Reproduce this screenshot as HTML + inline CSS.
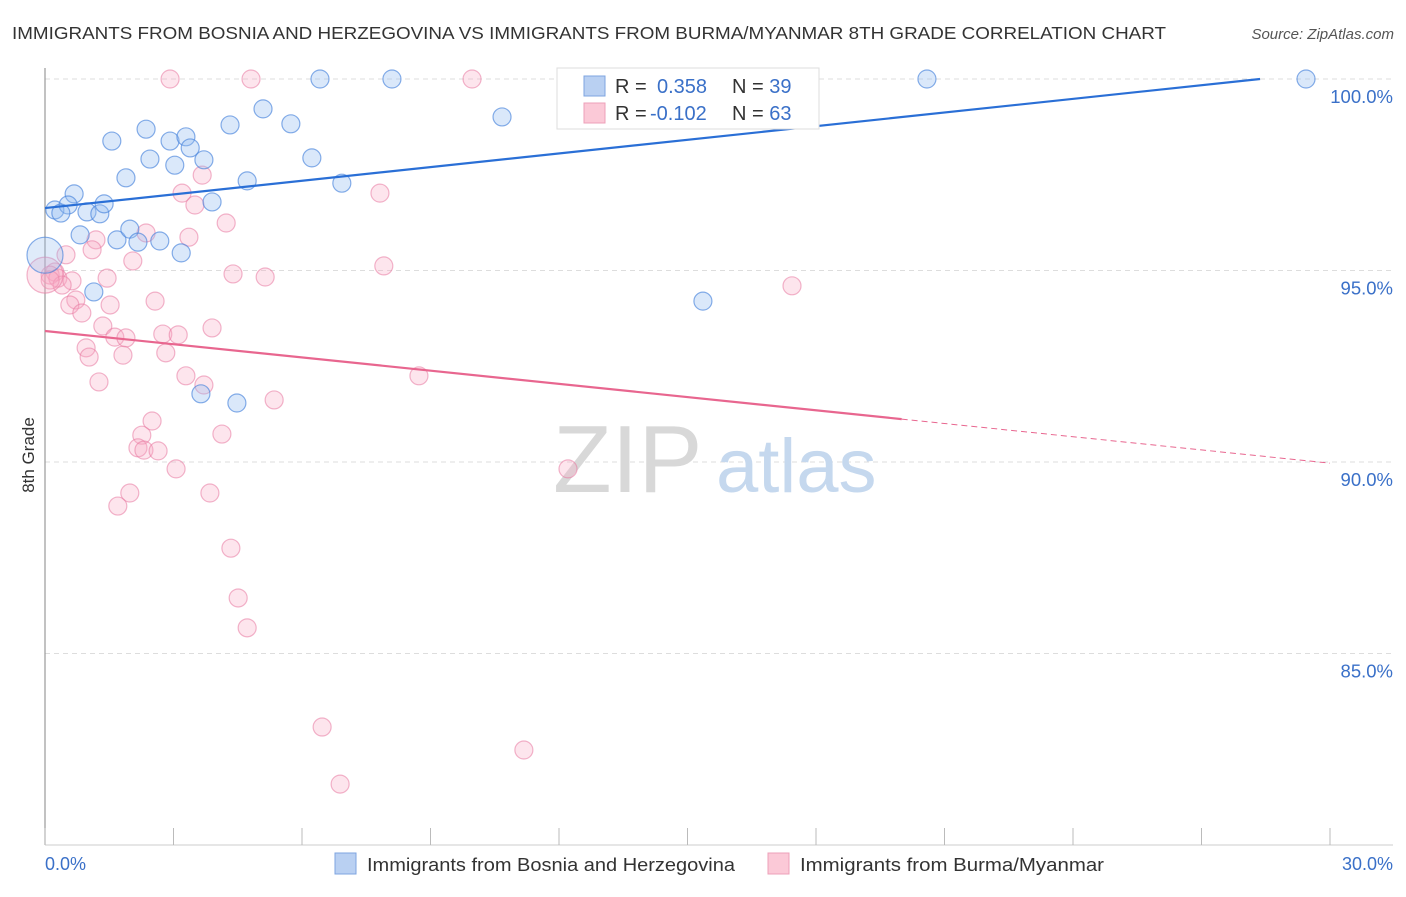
<!DOCTYPE html>
<html><head><meta charset="utf-8"><style>
body{margin:0;background:#fff;font-family:"Liberation Sans",sans-serif;}
svg text{font-family:"Liberation Sans",sans-serif;}
</style></head><body>
<svg width="1406" height="892" viewBox="0 0 1406 892" xmlns="http://www.w3.org/2000/svg" id="chart">
<text x="12" y="39" font-size="17.5" fill="#333" textLength="1154" lengthAdjust="spacingAndGlyphs">IMMIGRANTS FROM BOSNIA AND HERZEGOVINA VS IMMIGRANTS FROM BURMA/MYANMAR 8TH GRADE CORRELATION CHART</text>
<text x="1394" y="39" font-size="15" fill="#555" font-style="italic" text-anchor="end">Source: ZipAtlas.com</text>
<g id="grid"></g>
<g>
<text x="553" y="492" font-size="96" fill="#d8d8d8" font-family="Liberation Serif">ZIP</text>
<text x="716" y="492" font-size="76" fill="#c5d8ee">atlas</text>
</g>
<line x1="45" y1="68" x2="45" y2="845" stroke="#999" stroke-width="1.2"/>
<line x1="45" y1="845" x2="1393" y2="845" stroke="#ccc" stroke-width="1"/>
<g id="xticks"></g>
<g id="ylabels"></g>
<text x="45" y="870" font-size="18" fill="#3a70c8">0.0%</text>
<text x="1393" y="870" font-size="18" fill="#3a70c8" text-anchor="end">30.0%</text>
<text transform="translate(34,455) rotate(-90)" font-size="17" fill="#333" text-anchor="middle">8th Grade</text>
<g id="pinkpts"></g>
<g id="bluepts"></g>
<g id="lines"></g>
<g>
<rect x="557" y="68" width="262" height="61" fill="#fff" stroke="#ddd"/>
<rect x="584" y="76" width="21" height="20" fill="#b9d0f2" stroke="#7ea4e0"/>
<rect x="584" y="103" width="21" height="20" fill="#fbc9d7" stroke="#eea0b8"/>
<text x="615" y="93" font-size="20" fill="#333">R = <tspan x="657" fill="#3a70c8">0.358</tspan><tspan x="732" fill="#333">N = </tspan><tspan fill="#3a70c8">39</tspan></text>
<text x="615" y="120" font-size="20" fill="#333">R = <tspan x="650" fill="#3a70c8">-0.102</tspan><tspan x="732" fill="#333">N = </tspan><tspan fill="#3a70c8">63</tspan></text>
</g>
<g>
<rect x="335" y="853" width="21" height="21" fill="#b9d0f2" stroke="#7ea4e0"/>
<text x="367" y="871" font-size="18" fill="#333" textLength="368" lengthAdjust="spacingAndGlyphs">Immigrants from Bosnia and Herzegovina</text>
<rect x="768" y="853" width="21" height="21" fill="#fbc9d7" stroke="#eea0b8"/>
<text x="800" y="871" font-size="18" fill="#333" textLength="304" lengthAdjust="spacingAndGlyphs">Immigrants from Burma/Myanmar</text>
</g>
</svg>
<script>
const yTicks=[100,95,90,85];
const yTickLabels=["100.0%","95.0%","90.0%","85.0%"];
const xTicks=[0,3,6,9,12,15,18,21,24,27,30];
const blueX=[6.42,8.10,20.59,29.44,5.09,10.67,1.56,2.36,2.92,3.29,4.32,5.74,3.39,2.45,3.03,3.71,6.23,1.89,4.72,6.93,0.68,3.90,0.23,0.54,0.37,0.98,1.28,1.38,0.82,1.68,1.98,2.17,2.68,3.18,0,1.14,15.36,3.64,4.48];
const blueY=[100,100,100,100,99.22,99.01,98.38,98.69,98.38,98.49,98.80,98.83,98.20,97.91,97.75,97.89,97.94,97.42,97.34,97.28,97.00,96.79,96.58,96.71,96.50,96.53,96.48,96.74,95.93,95.80,96.08,95.74,95.77,95.46,95.40,94.44,94.20,91.78,91.54];
const blueBig=[0,0,0,0,0,0,0,0,0,0,0,0,0,0,0,0,0,0,0,0,0,0,0,0,0,0,0,0,0,0,0,0,0,0,1,0,0,0,0];
const pinkX=[2.92,4.81,9.97,3.67,3.20,3.50,4.23,7.82,2.36,1.19,3.36,1.10,0.49,2.05,7.91,4.39,5.14,1.45,0.23,0.12,0.30,0.63,0.40,0.12,0.72,1.52,0.58,0.86,2.57,1.35,3.90,1.63,1.89,2.75,3.11,0.96,1.03,1.82,2.82,1.26,3.29,3.71,8.73,5.35,2.50,2.26,4.13,2.17,2.31,2.64,3.06,12.21,1.98,3.85,1.70,4.34,4.51,4.72,6.47,11.18,6.89,17.44,0];
const pinkY=[100,100,100,97.49,97.02,96.71,96.24,97.02,95.98,95.80,95.87,95.54,95.41,95.25,95.12,94.91,94.83,94.80,94.96,94.88,94.80,94.73,94.62,94.75,94.23,94.10,94.10,93.89,94.20,93.55,93.50,93.26,93.24,93.34,93.32,92.98,92.74,92.79,92.85,92.09,92.25,92.01,92.25,91.62,91.07,90.70,90.73,90.37,90.31,90.29,89.82,89.82,89.19,89.19,88.85,87.75,86.45,85.67,83.08,82.48,81.59,94.60,94.88];
const blueTrend=[96.63,0.1188];
const pinkTrend=[93.42,-0.1150];
const NS="http://www.w3.org/2000/svg";
const X=v=>45+(v/30)*1285;
const Y=v=>79+(100-v)*38.3;
function mk(tag,attrs,parent){const e=document.createElementNS(NS,tag);for(const k in attrs)e.setAttribute(k,attrs[k]);parent.appendChild(e);return e;}
const grid=document.getElementById('grid'),yl=document.getElementById('ylabels'),xt=document.getElementById('xticks');
yTicks.forEach((t,i)=>{
 const l=mk('line',{x1:45,x2:1393,y1:Y(t),y2:Y(t),stroke:'#ddd','stroke-dasharray':'5,4'},grid);
 
 
 const tx=mk('text',{x:1393,y:Y(t)+24,'font-size':18.5,fill:'#3a70c8','text-anchor':'end'},yl);
 tx.textContent=yTickLabels[i];
 
 
});
xTicks.forEach(t=>{
 const l=mk('line',{x1:X(t),x2:X(t),y1:828,y2:845,stroke:'#bbb'},xt);
 
 
});
const pp=document.getElementById('pinkpts');
pinkX.forEach((v,i)=>{
 const c=mk('circle',{cx:X(v),cy:Y(pinkY[i]),r:(i==pinkX.length-1)?18:9,fill:'rgba(248,170,195,0.3)',stroke:'rgba(232,120,160,0.55)','stroke-width':1.2},pp);
 
 
});
const bp=document.getElementById('bluepts');
blueX.forEach((v,i)=>{
 const c=mk('circle',{cx:X(v),cy:Y(blueY[i]),r:blueBig[i]?18:9,fill:blueBig[i]?'rgba(150,190,240,0.3)':'rgba(150,190,240,0.35)',stroke:'rgba(70,130,220,0.65)','stroke-width':1.2},bp);
 
 
});
const lg=document.getElementById('lines');
const bEnd=Math.min(30,(100-blueTrend[0])/blueTrend[1]);
const bl=mk('line',{x1:X(0),y1:Y(blueTrend[0]),x2:X(bEnd),y2:Y(blueTrend[0]+blueTrend[1]*bEnd),stroke:'#2a6fd6','stroke-width':2.2},lg);


const pl=mk('line',{x1:X(0),y1:Y(pinkTrend[0]),x2:X(20),y2:Y(pinkTrend[0]+pinkTrend[1]*20),stroke:'#e8668f','stroke-width':2.2},lg);


const pd=mk('line',{x1:X(20),y1:Y(pinkTrend[0]+pinkTrend[1]*20),x2:X(30),y2:Y(pinkTrend[0]+pinkTrend[1]*30),stroke:'#e8668f','stroke-width':1,'stroke-dasharray':'6,4'},lg);


</script>
</body></html>
